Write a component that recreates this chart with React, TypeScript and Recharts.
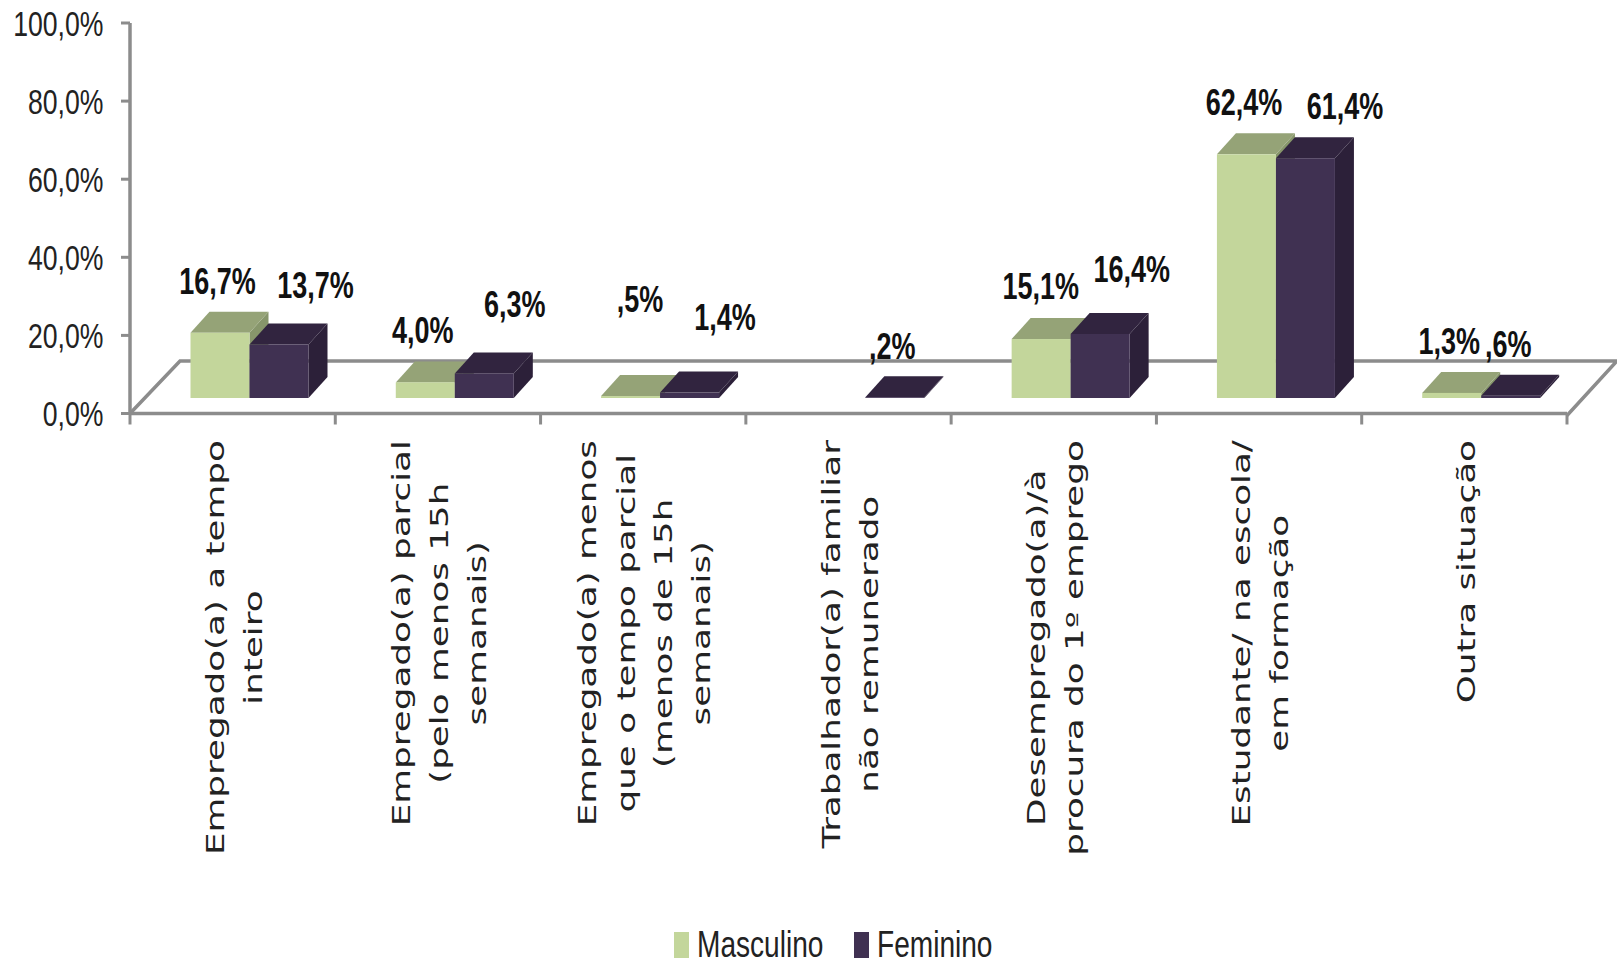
import { Bar, BarChart, Legend, LabelList, XAxis, YAxis, usePlotArea } from "recharts";

const categories = [
  "Empregado(a) a tempo\ninteiro",
  "Empregado(a) parcial\n(pelo menos 15h\nsemanais)",
  "Empregado(a) menos\nque o tempo parcial\n(menos de 15h\nsemanais)",
  "Trabalhador(a) familiar\nnão remunerado",
  "Desempregado(a)/à\nprocura do 1º emprego",
  "Estudante/ na escola/\nem formação",
  "Outra situação",
];
const masculino = [16.7, 4.0, 0.5, null, 15.1, 62.4, 1.3];
const feminino = [13.7, 6.3, 1.4, 0.2, 16.4, 61.4, 0.6];
const yTicks = [0, 20, 40, 60, 80, 100];

const data = categories.map((name, i) => ({
  name,
  masculino: masculino[i],
  feminino: feminino[i],
}));

// bars sit on the raised floor, further back than the axis
const FLOOR_LIFT = 15.5;
const SHIFT_X = 16.5;
const DEPTH_X = 19;
const DEPTH_Y = 21;

// hand placed data labels, same idea as dragging them in a spreadsheet chart.
// LabelList skips empty values, so masculino has one entry less
const masculinoNudge = [[-12, -30], [-12, -31], [0, -75], [-10, -31], [-12, -31], [-12, -30]];
const femininoNudge = [[27, -38], [21, -48], [26, -54], [-12, -30], [22, -43], [30, -31], [-12, -30]];

const AXIS_GRAY = "#8c8c8c";
const SANS = "'Liberation Sans', sans-serif";
const WIDE = "'DejaVu Sans', sans-serif";

const Box3D = (props: any) => {
  const { x, y, width, height, value, front, top, side } = props;
  if (value == null) return null;
  const left = x + SHIFT_X;
  const right = left + width;
  const upper = y - FLOOR_LIFT;
  const lower = upper + height;
  return (
    <g>
      <polygon
        points={`${right},${upper} ${right + DEPTH_X},${upper - DEPTH_Y} ${right + DEPTH_X},${lower - DEPTH_Y} ${right},${lower}`}
        fill={side}
      />
      <polygon
        points={`${left},${upper} ${left + DEPTH_X},${upper - DEPTH_Y} ${right + DEPTH_X},${upper - DEPTH_Y} ${right},${upper}`}
        fill={top}
      />
      <rect x={left} y={upper} width={width} height={height} fill={front} />
    </g>
  );
};

// the chart floor (back edge, slanted sides) and the ticks between categories
const Floor = () => {
  const area = usePlotArea();
  if (!area) return null;
  const { x, y, width, height } = area;
  const bottom = y + height;
  const backY = bottom - 52.5;
  const points = `${x},${bottom} ${x + 50},${backY} ${x + width + 50},${backY} ${x + width},${bottom + 2}`;
  const step = width / categories.length;
  return (
    <g>
      <polyline points={points} fill="none" stroke={AXIS_GRAY} strokeWidth={3.5} />
      {[...categories, ""].map((_, i) => (
        <line
          key={i}
          x1={x + i * step}
          x2={x + i * step}
          y1={bottom}
          y2={bottom + 11}
          stroke={AXIS_GRAY}
          strokeWidth={3}
        />
      ))}
    </g>
  );
};

const formatValue = (v: number) => `${v.toFixed(1).replace(".", ",").replace(/^0/, "")}%`;

const makeLabel = (nudge: number[][]) => (props: any) => {
  const { x, y, width, value, index } = props;
  if (value == null) return null;
  const [dx, dy] = nudge[index];
  const cx = x + width / 2 + SHIFT_X + DEPTH_X / 2 + dx;
  const cy = y - FLOOR_LIFT - DEPTH_Y + dy;
  return (
    <text
      transform={`translate(${cx},${cy}) scale(0.75,1)`}
      textAnchor="middle"
      dominantBaseline="central"
      fontFamily={SANS}
      fontWeight="bold"
      fontSize={36}
      fill="#111"
    >
      {formatValue(value)}
    </text>
  );
};

const PercentTick = ({ x, y, payload }: any) => (
  <text
    transform={`translate(${x - 1.5},${y}) scale(0.74,1)`}
    textAnchor="end"
    dominantBaseline="central"
    fontFamily={SANS}
    fontSize={36}
    fill="#222"
  >
    {`${payload.value},0%`}
  </text>
);

const measure = (() => {
  const ctx = document.createElement("canvas").getContext("2d")!;
  ctx.font = `24px 'DejaVu Sans'`;
  return (s: string) => ctx.measureText(s).width;
})();

const CategoryTick = ({ x, y, payload }: any) => {
  const lines: string[] = payload.value.split("\n");
  const stretch = 1.49;
  const longest = Math.max(...lines.map(measure)) * stretch;
  const midY = y + 15.5 + longest / 2;
  return (
    <g transform={`translate(${x + 2},${midY}) rotate(-90) scale(${stretch},1)`}>
      {lines.map((line, i) => (
        <text
          key={line}
          x={0}
          y={(i - (lines.length - 1) / 2) * 38}
          textAnchor="middle"
          dominantBaseline="central"
          fontFamily={WIDE}
          fontSize={24}
          fill="#222"
        >
          {line}
        </text>
      ))}
    </g>
  );
};

const legendWidths: Record<string, number> = { Masculino: 125, Feminino: 112 };

const LegendRow = ({ payload }: any) => (
  <div style={{ display: "flex", alignItems: "center", paddingLeft: 674, gap: 32 }}>
    {payload.map((item: any) => (
      <div key={item.value} style={{ display: "flex", alignItems: "center", gap: 8 }}>
        <span style={{ width: 15, height: 26, background: item.color, display: "inline-block" }} />
        <span
          style={{
            width: legendWidths[item.value],
            fontFamily: SANS,
            fontSize: 36,
            color: "#222",
            lineHeight: "36px",
            transform: "scaleX(0.78)",
            transformOrigin: "left center",
            whiteSpace: "nowrap",
            display: "inline-block",
          }}
        >
          {item.value}
        </span>
      </div>
    ))}
  </div>
);

export default function App() {
  return (
    <div style={{ position: "absolute", left: 0, top: 0 }}>
      <BarChart
        width={1617}
        height={962}
        data={data}
        barSize={59}
        barGap={0}
        margin={{ top: 23, right: 50, bottom: 0, left: 0 }}
      >
        <Floor />
        <XAxis
          dataKey="name"
          height={548.5}
          interval={0}
          tick={<CategoryTick />}
          tickLine={false}
          axisLine={{ stroke: AXIS_GRAY, strokeWidth: 3.5 }}
          tickSize={9}
        />
        <YAxis
          width={130}
          domain={[0, 100]}
          ticks={yTicks}
          tick={<PercentTick />}
          tickLine={{ stroke: AXIS_GRAY, strokeWidth: 3 }}
          axisLine={{ stroke: AXIS_GRAY, strokeWidth: 3.5 }}
          tickSize={9}
          tickMargin={16}
        />
        <Legend
          verticalAlign="middle"
          itemSorter={null}
          content={<LegendRow />}
          wrapperStyle={{ left: 0, top: 927, width: 1617 }}
        />
        <Bar
          dataKey="masculino"
          name="Masculino"
          fill="#c3d69b"
          isAnimationActive={false}
          shape={<Box3D front="#c3d69b" top="#95a377" side="#87966b" />}
        >
          <LabelList dataKey="masculino" content={makeLabel(masculinoNudge)} />
        </Bar>
        <Bar
          dataKey="feminino"
          name="Feminino"
          fill="#403152"
          isAnimationActive={false}
          shape={<Box3D front="#403152" top="#31243f" side="#2c2039" />}
        >
          <LabelList dataKey="feminino" content={makeLabel(femininoNudge)} />
        </Bar>
      </BarChart>
    </div>
  );
}
